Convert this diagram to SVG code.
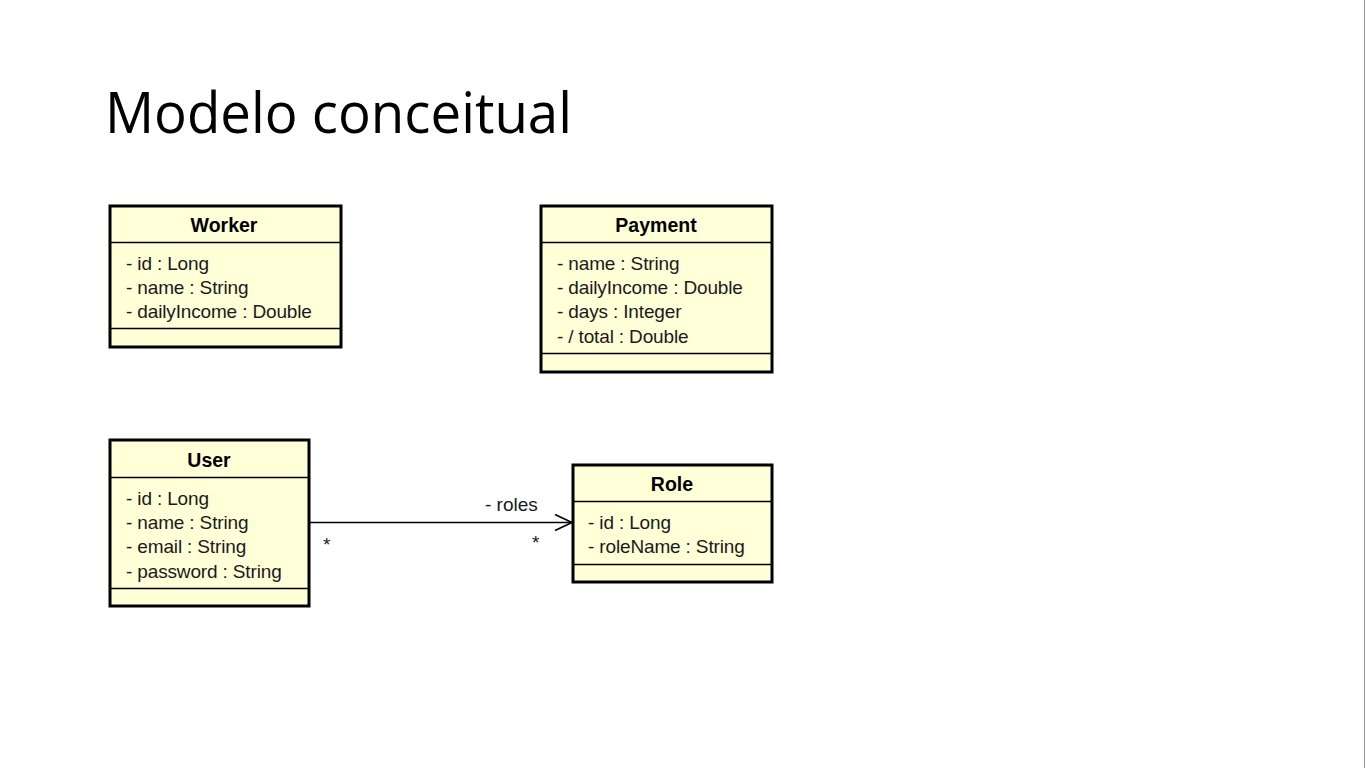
<svg xmlns="http://www.w3.org/2000/svg" width="1366" height="768" viewBox="0 0 1366 768">
<defs>
<style>
.box{fill:#ffffd8;stroke:#000;stroke-width:3}
.sep{stroke:#000;stroke-width:1.6}
.name{font-family:"Liberation Sans",Arial,sans-serif;font-size:19.5px;font-weight:bold;text-anchor:middle;fill:#000}
.attr{font-family:"Liberation Sans",Arial,sans-serif;font-size:19px;letter-spacing:-0.15px;fill:#1a1a1a}
.lbl{font-family:"Liberation Sans",Arial,sans-serif;font-size:19px;fill:#1a1a1a}
</style>
<marker id="open" viewBox="0 0 20 20" refX="18" refY="10" markerWidth="20" markerHeight="20" markerUnits="userSpaceOnUse" orient="auto">
<path d="M1,2 L18,10 L1,18" fill="none" stroke="#000" stroke-width="1.6"/>
</marker>
</defs>
<rect width="1366" height="768" fill="#ffffff"/>
<line x1="1364.5" y1="0" x2="1364.5" y2="768" stroke="#9a9a9a" stroke-width="1"/>
<text x="105" y="133" font-family="'Open Sans','Noto Sans',sans-serif" font-size="57" font-weight="400" textLength="467" lengthAdjust="spacingAndGlyphs" fill="#000">Modelo conceitual</text>

<g id="worker">
<rect class="box" x="110" y="206" width="231" height="141"/>
<line class="sep" x1="110" y1="242.5" x2="341" y2="242.5"/>
<line class="sep" x1="110" y1="328.5" x2="341" y2="328.5"/>
<text class="name" x="224" y="232">Worker</text>
<text class="attr" x="126" y="270">- id : Long</text>
<text class="attr" x="126" y="294">- name : String</text>
<text class="attr" x="126" y="318">- dailyIncome : Double</text>
</g>

<g id="payment">
<rect class="box" x="541" y="206" width="231" height="166"/>
<line class="sep" x1="541" y1="242.5" x2="772" y2="242.5"/>
<line class="sep" x1="541" y1="353.5" x2="772" y2="353.5"/>
<text class="name" x="656" y="232">Payment</text>
<text class="attr" x="557" y="270">- name : String</text>
<text class="attr" x="557" y="294">- dailyIncome : Double</text>
<text class="attr" x="557" y="318">- days : Integer</text>
<text class="attr" x="557" y="343">- / total : Double</text>
</g>

<g id="user">
<rect class="box" x="110" y="440" width="199" height="166"/>
<line class="sep" x1="110" y1="477.5" x2="309" y2="477.5"/>
<line class="sep" x1="110" y1="588.5" x2="309" y2="588.5"/>
<text class="name" x="209" y="467">User</text>
<text class="attr" x="126" y="505">- id : Long</text>
<text class="attr" x="126" y="529">- name : String</text>
<text class="attr" x="126" y="553">- email : String</text>
<text class="attr" x="126" y="578">- password : String</text>
</g>

<g id="role">
<rect class="box" x="573" y="465" width="199" height="117"/>
<line class="sep" x1="573" y1="501.5" x2="772" y2="501.5"/>
<line class="sep" x1="573" y1="564.5" x2="772" y2="564.5"/>
<text class="name" x="672" y="491">Role</text>
<text class="attr" x="588" y="529">- id : Long</text>
<text class="attr" x="588" y="553">- roleName : String</text>
</g>

<g id="connectors">
<line x1="310" y1="522.5" x2="572" y2="522.5" stroke="#000" stroke-width="1.4" marker-end="url(#open)"/>
<text class="lbl" x="485" y="511">- roles</text>
<text class="lbl" x="323" y="551">*</text>
<text class="lbl" x="532" y="549">*</text>
</g>
</svg>
